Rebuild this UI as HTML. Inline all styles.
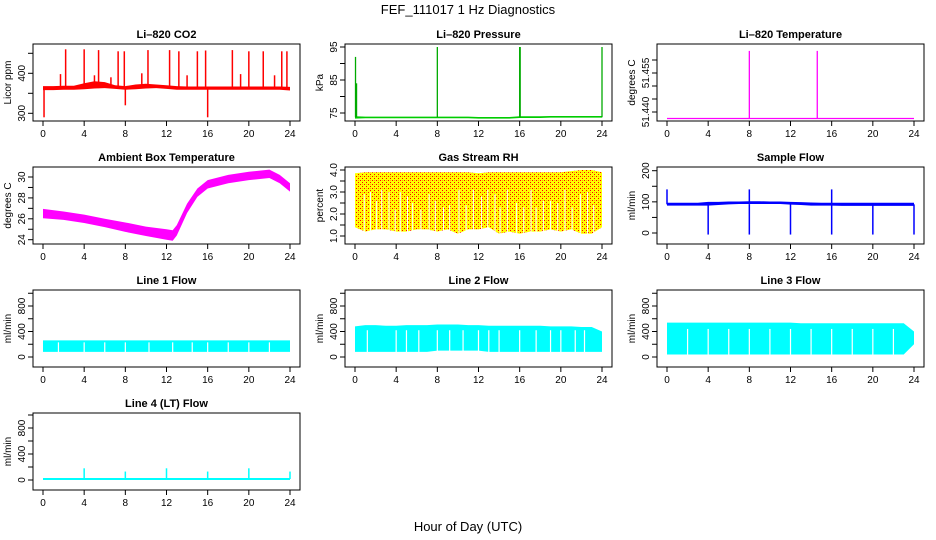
<!DOCTYPE html>
<html><head><meta charset="utf-8"><style>
body{margin:0;background:#fff;}
svg{display:block;font-family:"Liberation Sans",Arial,sans-serif;}
</style></head><body>
<svg id="c" width="936" height="540">
<defs>
<pattern id="rhpat" width="4" height="4" patternUnits="userSpaceOnUse">
<rect width="4" height="4" fill="#ffff00"/><rect x="0" y="0" width="1" height="1" fill="#ff0000"/><rect x="2" y="2" width="1" height="1" fill="#ff0000"/><rect x="2" y="0" width="1" height="1" fill="#ffb000"/>
</pattern>
</defs>
<text x="468" y="14" text-anchor="middle" font-size="13">FEF_111017  1 Hz Diagnostics</text>
<text x="468" y="531" text-anchor="middle" font-size="13">Hour of Day (UTC)</text>
</svg>
<script>
const NS='http://www.w3.org/2000/svg';
const svg=document.getElementById('c');
function mk(tag,attrs,parent){const e=document.createElementNS(NS,tag);for(const k in attrs)e.setAttribute(k,attrs[k]);(parent||svg).appendChild(e);return e;}

// ---- data arrays ----
const xTicks=[0,4,8,12,16,20,24];
const hours=[0,1,2,3,4,5,6,7,8,9,10,11,12,13,14,15,16,17,18,19,20,21,22,23,24];
// CO2
const co2Lo=[358,358,359,359,360,362,363,361,359,360,362,363,361,359,359,359,359,359,359,359,359,359,359,359,357];
const co2Hi=[368,368,369,369,375,380,378,370,368,372,374,372,370,368,367,367,367,367,367,367,367,367,367,367,366];
const co2SpikeX=[2.2,4.0,5.4,7.3,7.9,10.2,12.3,13.2,15.0,15.8,18.4,20.0,21.4,23.2,23.7,0.1,8.0,16.0,1.7,5.0,6.6,9.6,14.0,19.2,22.5];
const co2SpikeV=[460,460,458,455,455,458,458,455,455,457,458,455,455,455,455,290,320,290,398,395,390,400,395,398,395];
// Pressure
const presLo=[73.3,73.4,73.4,73.4,73.4,73.4,73.4,73.4,73.4,73.4,73.4,73.4,73.3,73.3,73.3,73.3,73.5,73.5,73.5,73.6,73.6,73.6,73.6,73.6,73.6];
const presHi=[74.0,73.9,73.9,73.9,73.9,73.9,73.9,73.9,73.9,73.9,73.9,73.9,73.8,73.8,73.8,73.8,74.0,74.0,74.0,74.1,74.1,74.1,74.1,74.1,74.1];
const presSpikeX=[0.05,0.15,8.0,16.0,16.05,24.0];
const presSpikeV=[92,84,95,95,95,95];
// Li-820 temperature
const tempBase=51.4375;
const tempSpikeX=[8.0,14.6];
const tempSpikeV=[51.4635,51.4635];
// Ambient
const ambX=[0,2,4,6,8,10,12,12.6,13,14,15,16,18,20,22,23,24];
const ambMid=[26.5,26.3,26.0,25.6,25.2,24.8,24.5,24.4,24.9,27.0,28.5,29.3,29.8,30.1,30.3,29.8,29.0];
const ambHalf=[0.45,0.4,0.4,0.4,0.45,0.45,0.5,0.5,0.5,0.45,0.4,0.4,0.4,0.4,0.4,0.4,0.4];
// Gas stream RH
const rhHi=[3.85,3.9,3.9,3.9,3.9,3.9,3.9,3.9,3.9,3.9,3.9,3.9,3.85,3.9,3.9,3.9,3.9,3.9,3.9,3.9,3.9,3.95,4.0,4.0,3.9];
const rhLo=[1.4,1.2,1.3,1.3,1.2,1.2,1.3,1.3,1.2,1.3,1.1,1.3,1.3,1.4,1.1,1.2,1.1,1.2,1.2,1.3,1.2,1.3,1.1,1.1,1.4];
const rhGapX=[0.9,1.5,2.1,2.6,3.3,3.9,4.4,5.1,5.6,6.4,7.2,7.8,8.6,9.2,10.1,10.8,11.5,12.3,12.9,13.6,14.1,14.8,15.7,16.4,17.1,17.6,18.3,19.0,19.7,20.4,21.1,21.9,22.6,23.2];
const rhGapV=[2.9,3.0,2.6,3.1,3.0,2.2,3.0,2.8,2.5,2.2,2.9,2.6,2.3,2.4,3.1,2.4,3.1,2.8,3.1,2.9,2.3,3.1,2.5,2.3,3.1,2.3,2.6,2.6,2.5,3.1,2.3,2.9,3.0,2.4];
// Sample flow
const sfLo=[88,88,88,88,88,90,92,93,93,93,93,93,91,90,88,88,88,87,87,87,87,87,87,87,87];
const sfHi=[97,97,97,97,100,100,101,101,102,102,101,101,100,99,98,97,97,97,97,97,97,97,97,97,97];
const sfSpikeX=[0.0,8.0,16.0,4.0,8.0,12.0,16.0,20.0,24.0];
const sfSpikeV=[140,140,140,-5,-5,-5,-5,-5,-5];
// Line flows
const l1Lo=80,l1Hi=260;
const l1GapX=[1.5,4.0,6.0,8.0,10.3,12.6,14.5,16.0,18.0,20.0,22.0];
const l2Lo=[80,80,80,80,80,80,80,80,100,100,100,100,100,80,80,80,80,80,80,80,80,80,80,80,80];
const l2Hi=[480,500,500,490,490,500,500,500,510,510,510,500,500,490,490,490,490,490,490,480,480,480,470,470,400];
const l2GapX=[1.2,4.0,5.0,6.2,8.0,9.2,10.5,12.0,13.0,14.0,16.0,17.6,19.0,20.0,21.4,22.3];
const l3Lo=[40,40,40,40,40,40,40,40,40,40,40,40,40,40,40,40,40,40,40,40,40,40,40,40,200];
const l3Hi=[540,540,540,540,540,540,540,540,540,540,540,540,540,530,530,530,530,530,530,530,530,530,530,530,400];
const l3GapX=[2.0,4.0,6.0,8.0,10.0,12.0,14.0,16.0,18.0,20.0,22.0];
const l4Lo=0,l4Hi=30;
const l4SpikeX=[4.0,8.0,12.0,16.0,20.0,24.0];
const l4SpikeV=[180,130,180,130,180,130];

// ---- layout ----
const colX=[33,345,657], W=267, rowY=[44,167,290,413], H=77;
function panel(c,r,name,title,ylab,ticks,labels,v0,p0,v1,p1){
  const x0=colX[c], y0=rowY[r];
  const g=mk('g',{});
  
  
  const X=h=>x0+10+h*(W-20)/24;
  const Y=v=>p0+(v-v0)*(p1-p0)/(v1-v0);
  const t=mk('text',{x:x0+W/2,y:y0-6,'text-anchor':'middle','font-size':'11','font-weight':'bold'},g);t.textContent=title;
  
  const clip=mk('clipPath',{id:'cl'+name},g);mk('rect',{x:x0,y:y0,width:W,height:H},clip);
  const plot=mk('g',{'clip-path':'url(#cl'+name+')'},g);
  mk('rect',{x:x0,y:y0,width:W,height:H,fill:'none',stroke:'#000','stroke-width':1},g);
  xTicks.forEach(h=>{mk('line',{x1:X(h),x2:X(h),y1:y0+H,y2:y0+H+5,stroke:'#000'},g);
    const tx=mk('text',{x:X(h),y:y0+H+16,'text-anchor':'middle','font-size':'10'},g);tx.textContent=h;});
  ticks.forEach(v=>{mk('line',{x1:x0,x2:x0-5,y1:Y(v),y2:Y(v),stroke:'#000'},g);});
  labels.forEach(v=>{const ty=mk('text',{x:x0-8,y:Y(v),'text-anchor':'middle','font-size':'10',transform:`rotate(-90 ${x0-8} ${Y(v)})`},g);ty.textContent=String(v.toFixed?((ticks.dec!==undefined)?v.toFixed(ticks.dec):v):v);});
  const yl=mk('text',{x:x0-22,y:y0+H/2,'text-anchor':'middle','font-size':'10',transform:`rotate(-90 ${x0-22} ${y0+H/2})`},g);yl.textContent=ylab;
  return {g:plot,X,Y};
}
function band(p,xs,lo,hi,fill){
  let pts=xs.map((h,i)=>p.X(h)+','+p.Y(Array.isArray(hi)?hi[i]:hi));
  for(let i=xs.length-1;i>=0;i--)pts.push(p.X(xs[i])+','+p.Y(Array.isArray(lo)?lo[i]:lo));
  const e=mk('polygon',{points:pts.join(' '),fill:fill},p.g);
  
}
function spikes(p,xs,vs,base,color,w){
  xs.forEach((h,i)=>{const e=mk('line',{x1:p.X(h),x2:p.X(h),y1:p.Y(base),y2:p.Y(vs[i]),stroke:color,'stroke-width':w||1.3},p.g);
  });
}
function gaps(p,xs,lo,hi,w){
  xs.forEach((h,i)=>{const top=Array.isArray(hi)?hi[i]:hi;const e=mk('rect',{x:p.X(h)-w/2,y:p.Y(top),width:w,height:p.Y(lo)-p.Y(top),fill:'#fff'},p.g);
  });
}

// CO2
let p=panel(0,0,'co2-panel','Li\u2013820 CO2','Licor ppm',[300,350,400,450],[300,400],300,113.3,400,73.3);
band(p,hours,co2Lo,co2Hi,'#ff0000');spikes(p,co2SpikeX,co2SpikeV,363,'#ff0000',1.5);
// Pressure
p=panel(1,0,'pressure-panel','Li\u2013820 Pressure','kPa',[75,80,85,90,95],[75,85,95],75,113,95,47);
band(p,hours,presLo,presHi,'#00cc00');spikes(p,presSpikeX,presSpikeV,73.7,'#00aa00',1.3);
// Temperature
const tt=[51.440,51.445,51.450,51.455,51.460];tt.dec=3;
p=panel(2,0,'li820-temperature-panel','Li\u2013820 Temperature','degrees C',tt,[51.440,51.455],51.440,112,51.455,73);
mk('line',{x1:p.X(0),x2:p.X(24),y1:p.Y(tempBase),y2:p.Y(tempBase),stroke:'#ff00ff','stroke-width':1.3},p.g);
spikes(p,tempSpikeX,tempSpikeV,tempBase,'#ff00ff',1.3);
// Ambient
p=panel(0,1,'ambient-temperature-panel','Ambient Box Temperature','degrees C',[24,25,26,27,28,29,30],[24,26,28,30],24,239.7,30,177);
band(p,ambX,ambMid.map((m,i)=>m-ambHalf[i]),ambMid.map((m,i)=>m+ambHalf[i]),'#ff00ff');
// RH
const rt=[1.0,1.5,2.0,2.5,3.0,3.5,4.0];rt.dec=1;
p=panel(1,1,'gas-stream-rh-panel','Gas Stream RH','percent',rt,[1.0,2.0,3.0,4.0],1.0,236,4.0,170);
band(p,hours,rhLo,rhHi,'url(#rhpat)');gaps(p,rhGapX,0.8,rhGapV,1.0);
// Sample flow
p=panel(2,1,'sample-flow-panel','Sample Flow','ml/min',[0,50,100,150,200],[0,100,200],0,233,200,170.7);
band(p,hours,sfLo,sfHi,'#0000ff');spikes(p,sfSpikeX,sfSpikeV,92,'#0000ff',1.5);
// Line flows
const ft=[0,200,400,600,800,1000],fl=[0,400,800];
p=panel(0,2,'line1-flow-panel','Line 1 Flow','ml/min',ft,fl,0,357,800,306);
band(p,[0,24],l1Lo,l1Hi,'#00ffff');gaps(p,l1GapX,l1Lo-10,l1Hi-30,1.2);
p=panel(1,2,'line2-flow-panel','Line 2 Flow','ml/min',ft,fl,0,357,800,306);
band(p,hours,l2Lo,l2Hi,'#00ffff');gaps(p,l2GapX,60,420,1.2);
p=panel(2,2,'line3-flow-panel','Line 3 Flow','ml/min',ft,fl,0,357,800,306);
band(p,hours,l3Lo,l3Hi,'#00ffff');gaps(p,l3GapX,20,440,1.2);
p=panel(0,3,'line4-flow-panel','Line 4 (LT) Flow','ml/min',ft,fl,0,480,800,428);
band(p,[0,24],l4Lo,l4Hi,'#00ffff');spikes(p,l4SpikeX,l4SpikeV,15,'#00ffff',1.5);
</script>
</body></html>
